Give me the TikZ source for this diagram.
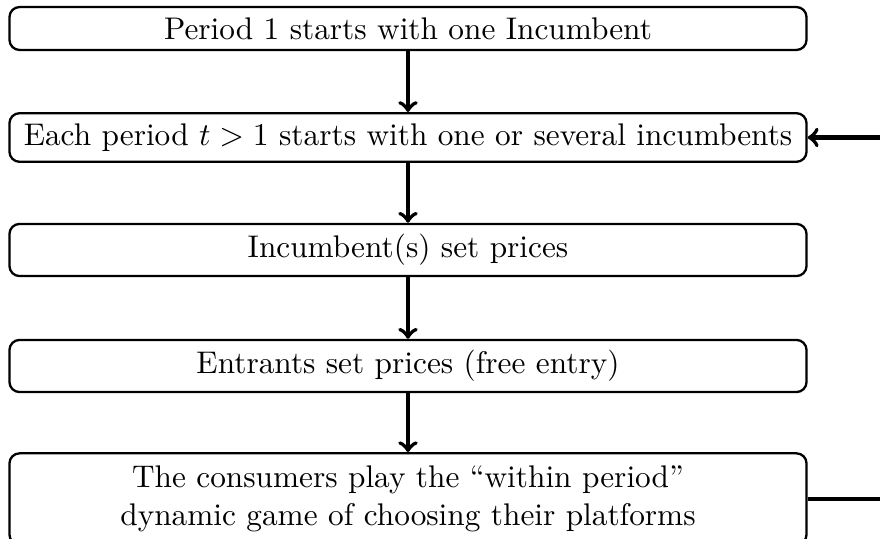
\documentclass[tikz,border=0pt]{standalone}
\begin{document}
\begin{tikzpicture}[x=0.345pt,y=-0.345pt,
  stage/.style={draw,thick,rounded corners=3.5pt,minimum width=275pt,align=center,inner sep=3.6pt,font=\fontsize{10.8pt}{13pt}\selectfont},
  arr/.style={->,line width=1.4pt}]
\useasboundingbox (0,0) rectangle (880,539);
\clip (0,0) rectangle (880,539);
\node[stage] (b1) at (408,28.5) {Period 1 starts with one Incumbent};
\node[stage] (b2) at (408,137.5) {Each period $t>1$ starts with one or several incumbents};
\node[stage] (b3) at (408,250) {Incumbent(s) set prices};
\node[stage] (b4) at (408,366) {Entrants set prices (free entry)};
\node[stage,inner ysep=4.4pt] (b5) at (408,499) {The consumers play the ``within period''\\ dynamic game of choosing their platforms};
\coordinate (c2) at (900,137.5);
\draw[arr] (b1) -- (b2);
\draw[arr] (b2) -- (b3);
\draw[arr] (b3) -- (b4);
\draw[arr] (b4) -- (b5);
\draw[arr] (b5.east) -| (c2) -- (b2.east);
\end{tikzpicture}
\end{document}
